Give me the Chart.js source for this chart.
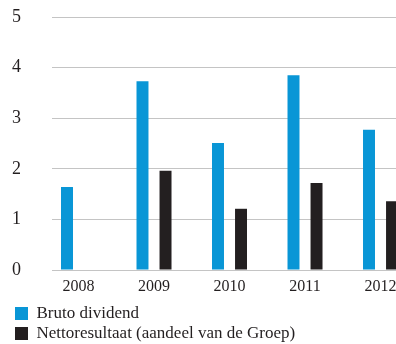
<!DOCTYPE html>
<html>
<head>
<meta charset="utf-8">
<script src="https://cdn.jsdelivr.net/npm/chart.js@4"></script>
<style>
html,body{margin:0;padding:0;background:#fff;overflow:hidden}
#wrap{position:relative;width:396px;height:352px}
</style>
</head>
<body>
<div id="wrap"><canvas id="chart"></canvas></div>
<script>
// data
const years = [2008, 2009, 2010, 2011, 2012]
const brutoDividend = [1.64, 3.73, 2.51, 3.85, 2.77]
const nettoResultaat = [null, 1.96, 1.21, 1.72, 1.36]
const yTicks = [0, 1, 2, 3, 4, 5]
const seriesNames = ["Bruto dividend", "Nettoresultaat (aandeel van de Groep)"]

const serif = "'Liberation Serif', 'DejaVu Serif', serif"
const ink = "#231f20"

const toPoints = vals => years.map((y,i)=>({x:y, y:vals[i]}))

// keep chart.js from adding label overflow padding round the plot
function noPad(s){
  s.paddingLeft = 0; s.paddingRight = 0; s.paddingTop = 0; s.paddingBottom = 0
}

new Chart(document.getElementById("chart"),{
  type:'bar',
  data:{
    datasets:[
      {label:seriesNames[0], data:toPoints(brutoDividend), backgroundColor:'#0996d6'},
      {label:seriesNames[1], data:toPoints(nettoResultaat), backgroundColor:ink}
    ]
  },
  options:{
    responsive:true,
    maintainAspectRatio:false,
    animation:false,
    categoryPercentage:0.61,
    barPercentage:0.52,
    layout:{padding:{top:17, left:12, right:0, bottom:0}},
    plugins:{
      tooltip:{enabled:false},
      legend:{
        position:'bottom',
        align:'start',
        labels:{
          boxWidth:13, boxHeight:13, padding:3,
          color:ink,
          font:{family:serif, size:17}
        }
      }
    },
    scales:{
      x:{
        type:'linear',
        offset:false,
        min:2007.649,
        max:2012.205,
        grid:{display:false, offset:false, drawTicks:false},
        border:{display:false},
        afterBuildTicks: s => { s.ticks = years.map(v=>({value:v})) },
        afterFit: s => { noPad(s); s.height = 32 },
        ticks:{
          padding:2,
          maxRotation:0,
          color:ink,
          font:{family:serif, size:16, lineHeight:1.875},
          callback: v => String(v)
        }
      },
      y:{
        min:0, max:5,
        afterBuildTicks: s => { s.ticks = yTicks.map(v=>({value:v})) },
        afterFit: s => { noPad(s); s.width = 40 },
        grid:{color:'#c4c4c4', lineWidth:1, drawTicks:false},
        border:{display:false},
        ticks:{
          padding:31,
          color:ink,
          font:{family:serif, size:18}
        }
      }
    }
  }
})
</script>
</body>
</html>
